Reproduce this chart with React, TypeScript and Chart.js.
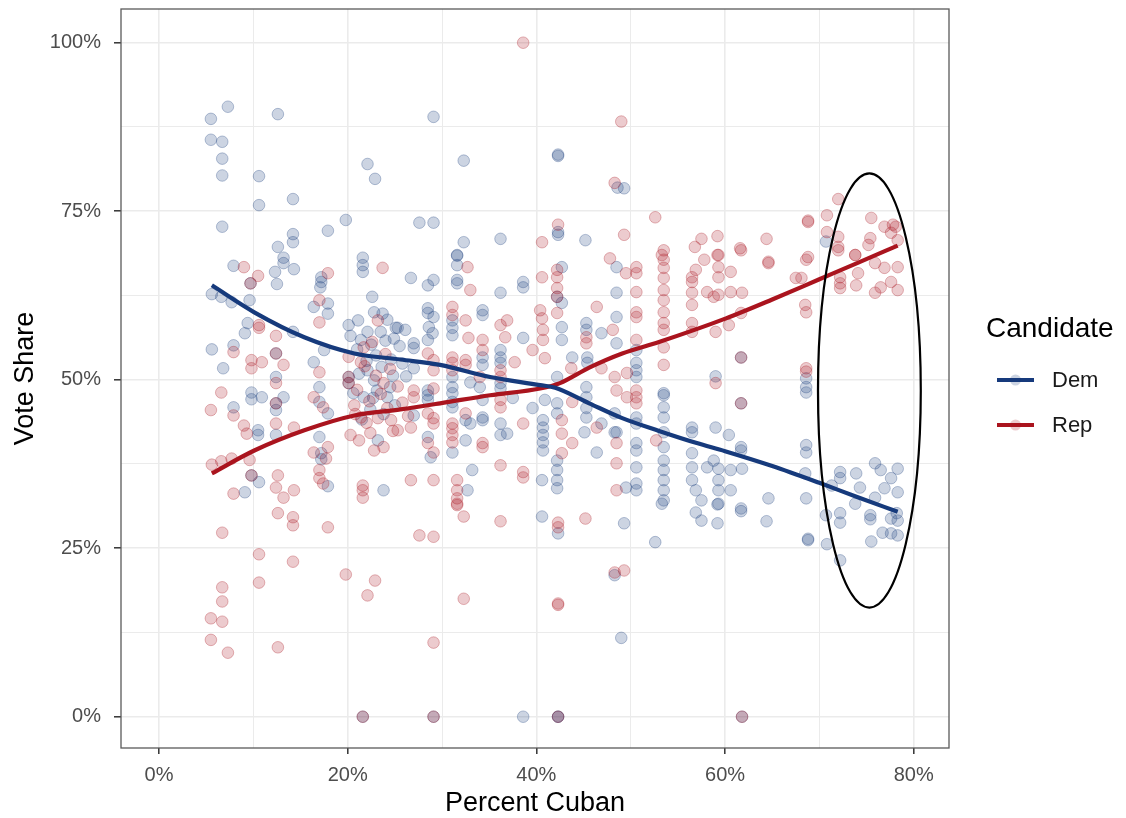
import React, { useEffect, useRef } from "react";
import { Chart, registerables } from "chart.js";

Chart.register(...registerables);

// ---------- data ----------
const xTickValues = [0, 10, 20, 30, 40, 50, 60, 70, 80];
const yTickValues = [0, 12.5, 25, 37.5, 50, 62.5, 75, 87.5, 100];
const seriesNames = ["Dem", "Rep"];
const legendTitle = "Candidate";
const xTitle = "Percent Cuban";
const yTitle = "Vote Share";

// Dem vote share per precinct/race: [percent Cuban, vote share]
const demPoints: [number, number][] = [
  [7.3, 90.5], [5.5, 88.7], [5.5, 85.6], [6.7, 85.3], [6.7, 82.8], [6.7, 80.3], [12.6, 89.4], [10.6, 80.2],
  [10.6, 75.9], [14.2, 76.8], [22.1, 82.0], [22.9, 79.8], [6.7, 72.7], [14.2, 71.6], [14.2, 70.4], [12.6, 69.7],
  [17.9, 72.1], [19.8, 73.7], [13.2, 68.1], [21.6, 68.1],
  [29.1, 89.0], [32.3, 82.5], [42.3, 83.4], [42.3, 83.2], [48.6, 78.5], [49.3, 78.4], [27.6, 73.3], [29.1, 73.3],
  [32.3, 70.4], [36.2, 70.9], [42.3, 71.9], [42.3, 71.5], [45.2, 70.7], [31.6, 68.4], [70.7, 70.5],
  [7.9, 66.9], [12.3, 66.0], [13.2, 67.3], [14.3, 66.4], [12.5, 64.2], [9.7, 64.3], [5.6, 62.7], [6.6, 62.3],
  [7.7, 61.5], [9.6, 61.8], [9.4, 58.4], [9.1, 56.9], [12.4, 53.9], [14.2, 57.1], [5.6, 54.5], [7.9, 55.1],
  [6.8, 51.7], [12.4, 50.4], [9.8, 48.1], [10.9, 47.4], [9.8, 47.1], [7.9, 45.9], [12.4, 46.5], [13.2, 47.4],
  [12.4, 45.5], [10.5, 42.5], [10.5, 41.8], [12.4, 41.8], [9.8, 35.8], [10.6, 34.8], [9.1, 33.3],
  [17.2, 65.2], [17.2, 64.5], [17.1, 63.7], [16.4, 60.8], [17.9, 61.3], [17.9, 59.8], [17.5, 54.4], [16.4, 52.6],
  [17.0, 48.9], [17.0, 46.7], [17.9, 45.0], [17.0, 41.5], [17.2, 39.1], [17.2, 38.2], [17.9, 34.2],
  [21.6, 67.0], [21.6, 66.0], [22.8, 60.0], [23.7, 59.8], [20.1, 58.1], [21.1, 58.8], [22.1, 57.1], [23.5, 57.1],
  [25.1, 57.7], [21.4, 55.9], [20.1, 50.4], [20.1, 49.5], [22.1, 51.4], [22.8, 49.9], [21.7, 47.4], [22.7, 47.3],
  [24.2, 47.4], [23.2, 41.0], [23.8, 33.6],
  [20.3, 56.5], [21.0, 54.5], [22.5, 55.2], [23.0, 53.6], [24.0, 55.8], [24.6, 53.0], [22.0, 52.8], [23.6, 51.9],
  [24.8, 50.6], [21.2, 50.9], [23.1, 48.4], [24.5, 48.9], [20.6, 48.0], [25.0, 46.2], [22.4, 45.6], [23.8, 44.9],
  [21.5, 44.1], [24.9, 56.1], [25.5, 55.0], [25.8, 52.4], [26.2, 50.5], [22.6, 62.3], [24.2, 58.9],
  [31.6, 68.5], [31.6, 67.0], [31.6, 64.8], [31.6, 64.3], [26.7, 65.1], [29.1, 64.8], [28.5, 64.0], [36.2, 62.9],
  [38.6, 64.5], [38.6, 63.7], [42.7, 66.7], [42.2, 62.3], [42.7, 61.4], [48.5, 66.7], [48.5, 62.9], [48.5, 59.3],
  [31.1, 58.8], [31.1, 57.7], [31.1, 56.6], [34.3, 60.3], [34.3, 59.6], [38.6, 56.2], [42.7, 57.8], [42.7, 55.9],
  [45.3, 58.4], [45.3, 57.4], [46.9, 56.9], [48.5, 55.4], [50.6, 54.4], [43.8, 53.3], [45.4, 53.3], [45.4, 52.5],
  [50.6, 52.5], [50.6, 51.4], [50.6, 50.4], [42.2, 50.4], [36.2, 54.4], [36.2, 53.3], [36.2, 52.5], [36.2, 49.5],
  [36.2, 48.7], [34.3, 53.3], [34.3, 52.2], [34.0, 48.9], [33.0, 49.6], [31.1, 50.4], [31.1, 48.9], [31.1, 48.0],
  [31.1, 46.7], [31.1, 45.9], [28.5, 60.6], [28.5, 59.9], [29.1, 59.3], [28.6, 57.8], [29.0, 56.9], [28.5, 55.9],
  [27.0, 55.4], [27.0, 54.7], [27.0, 51.7], [28.5, 48.4], [28.5, 47.7], [28.5, 47.0], [27.0, 44.7], [28.5, 41.5],
  [28.8, 38.5], [31.1, 39.2], [32.5, 44.0], [32.5, 41.0], [33.0, 43.5], [34.3, 47.0], [34.3, 44.4], [34.3, 44.0],
  [36.2, 43.5], [36.9, 42.0], [36.2, 41.8], [37.5, 47.3], [39.6, 45.8], [40.9, 47.0], [40.7, 44.0], [40.7, 42.9],
  [40.7, 41.8], [40.7, 40.7], [40.7, 39.5], [42.2, 46.5], [42.2, 45.0], [45.3, 48.9], [45.3, 47.4], [45.3, 45.8],
  [45.3, 44.4], [46.9, 43.5], [45.1, 42.2], [48.3, 45.0], [48.3, 42.2], [50.6, 44.4], [50.6, 43.5], [50.6, 40.6],
  [50.6, 39.5], [50.6, 37.0], [50.6, 34.6], [50.6, 33.6], [53.5, 48.0], [53.5, 45.9], [32.7, 33.6], [33.2, 36.6],
  [40.6, 35.1], [42.2, 38.0], [42.2, 36.6], [42.2, 35.1], [42.2, 33.9], [46.4, 39.2], [49.5, 34.0], [48.5, 42.2],
  [25.3, 57.7], [26.1, 57.4],
  [53.5, 47.7], [53.5, 44.4], [53.5, 42.2], [53.5, 40.0], [53.5, 38.0], [53.5, 36.6], [53.5, 35.1], [53.5, 33.6],
  [53.5, 32.1], [68.6, 50.2], [68.6, 48.9], [68.6, 48.1], [59.0, 50.5], [61.7, 46.5], [61.7, 53.3], [56.5, 42.9],
  [56.5, 42.2], [59.0, 42.9], [60.4, 41.8], [61.7, 40.0], [61.7, 39.5], [56.5, 39.1], [56.5, 37.0], [56.5, 35.1],
  [58.1, 37.0], [58.8, 38.0], [59.3, 36.8], [59.3, 35.1], [59.3, 33.6], [56.9, 33.6], [57.5, 32.1], [60.6, 36.6],
  [60.6, 33.6], [61.8, 36.8], [64.6, 32.4], [61.7, 30.9], [59.3, 31.6], [68.6, 40.3], [68.6, 39.2], [68.5, 36.1],
  [68.6, 32.4], [72.2, 36.3], [72.2, 35.4], [73.9, 36.1], [75.9, 37.6], [76.5, 36.6], [78.3, 36.8], [77.6, 35.4],
  [74.3, 34.0], [76.9, 33.9], [78.3, 33.3], [75.9, 32.5], [71.3, 34.3],
  [56.9, 30.3], [57.5, 29.1], [59.2, 31.5], [59.2, 28.7], [61.7, 30.5], [64.4, 29.0], [68.8, 26.4], [68.8, 26.2],
  [70.8, 25.6], [72.2, 23.2], [72.2, 30.2], [70.7, 29.9], [72.2, 28.8], [75.4, 29.9], [75.4, 29.3], [75.5, 26.0],
  [76.7, 27.3], [77.6, 27.2], [78.3, 26.9], [77.6, 29.4], [78.3, 29.1], [78.2, 30.2], [73.8, 31.6],
  [40.6, 29.7], [42.3, 27.2], [49.3, 28.7], [52.6, 25.9], [53.3, 31.6], [48.3, 21.0], [49.0, 11.7],
  [38.6, 0], [42.3, 0], [42.3, 0], [29.1, 0], [21.6, 0], [61.8, 0],
];

// Rep vote share per precinct/race: [percent Cuban, vote share]
const repPoints: [number, number][] = [
  [38.6, 100], [49.0, 88.3], [48.3, 79.2], [52.6, 74.1], [40.6, 70.4], [42.3, 73.0], [49.3, 71.5], [53.3, 68.5],
  [72.0, 76.8], [68.8, 73.6], [68.8, 73.4], [70.8, 74.4], [75.5, 74.0], [59.2, 71.3], [57.5, 70.9], [56.8, 69.7],
  [64.4, 70.9], [61.6, 69.5], [59.2, 68.5], [70.8, 71.9], [72.0, 71.2], [76.9, 72.7], [77.8, 73.0], [78.1, 72.7],
  [75.4, 71.0], [75.2, 70.0], [77.6, 71.8], [78.3, 70.7], [72.0, 69.7], [73.8, 68.5], [68.8, 68.2], [47.8, 68.0],
  [9.0, 66.7], [10.5, 65.4], [9.7, 64.3], [10.6, 58.1], [10.6, 57.7], [12.4, 56.5], [12.4, 53.9], [7.9, 54.1],
  [9.8, 52.9], [10.9, 52.6], [9.8, 51.7], [13.2, 52.2], [12.4, 49.5], [6.6, 48.1], [5.5, 45.5], [7.9, 44.7],
  [12.4, 46.5], [9.0, 43.2], [9.3, 42.0], [12.4, 43.5], [14.3, 42.9], [5.6, 37.4], [6.6, 37.9], [7.7, 38.3],
  [9.6, 38.1], [9.8, 35.8], [12.6, 35.8], [12.4, 34.0], [7.9, 33.1], [13.2, 32.5], [14.3, 33.6],
  [17.9, 65.8], [17.0, 61.8], [17.0, 58.5], [17.0, 51.1], [16.4, 47.4], [17.4, 45.9], [16.4, 39.2], [17.9, 40.0],
  [17.7, 38.3], [17.0, 36.6], [17.0, 35.4], [17.4, 34.6],
  [23.7, 66.6], [23.2, 58.8], [21.7, 54.8], [20.1, 53.4], [20.1, 50.4], [20.1, 49.5], [21.4, 52.6], [23.8, 49.5],
  [20.7, 46.2], [21.4, 44.4], [23.2, 44.3], [24.6, 44.0], [20.3, 41.8], [21.2, 41.0], [22.8, 39.5], [23.8, 40.0],
  [21.6, 34.3], [21.6, 33.6], [21.6, 32.5],
  [21.0, 48.5], [22.3, 46.8], [23.5, 47.9], [24.2, 45.8], [20.8, 44.9], [22.0, 43.6], [24.8, 42.4], [23.0, 50.6],
  [21.8, 52.0], [24.5, 51.6], [22.6, 55.6], [24.0, 53.8], [25.3, 49.0], [25.8, 46.6], [26.4, 44.6], [22.4, 42.1],
  [6.7, 27.3], [12.6, 30.2], [14.2, 29.6], [14.2, 28.4], [17.9, 28.1], [10.6, 24.1], [14.2, 23.0], [10.6, 19.9],
  [19.8, 21.1], [22.9, 20.2], [22.1, 18.0], [6.7, 19.2], [6.7, 17.1], [5.5, 14.6], [6.7, 14.1], [5.5, 11.4],
  [7.3, 9.5], [12.6, 10.3], [21.6, 0],
  [27.6, 26.9], [29.1, 26.7], [31.6, 31.6], [31.6, 31.4], [32.3, 29.7], [36.2, 29.0], [42.3, 28.8], [42.3, 28.1],
  [45.2, 29.4], [48.3, 21.4], [49.3, 21.7], [32.3, 17.5], [42.3, 16.6], [42.3, 16.8], [29.1, 11.0], [29.1, 0],
  [42.3, 0], [61.8, 0],
  [32.7, 66.7], [33.0, 63.3], [40.6, 65.2], [42.2, 66.3], [42.2, 65.2], [42.2, 63.6], [42.2, 62.3], [42.2, 59.9],
  [50.6, 66.7], [50.6, 65.8], [50.6, 63.0], [49.5, 65.8], [46.4, 60.8], [50.6, 60.0], [50.6, 59.3], [31.1, 60.8],
  [31.1, 59.6], [32.5, 58.8], [32.8, 56.2], [36.2, 58.1], [36.9, 58.8], [36.7, 56.3], [40.4, 60.3], [40.6, 59.1],
  [40.7, 57.4], [40.7, 55.9], [45.3, 56.3], [45.3, 55.4], [48.1, 57.4], [50.6, 55.9], [39.6, 54.4], [40.9, 53.2],
  [43.7, 51.7], [46.9, 51.7], [48.3, 50.4], [49.6, 51.0], [37.7, 52.6], [36.2, 51.4], [36.2, 50.4], [34.3, 55.9],
  [34.3, 54.4], [34.0, 50.4], [32.5, 52.9], [32.5, 52.2], [31.1, 53.3], [31.1, 52.5], [31.1, 51.4], [28.5, 53.9],
  [29.1, 52.9], [29.1, 51.4], [27.0, 48.4], [27.0, 47.4], [29.1, 48.7], [28.5, 45.0], [29.1, 44.3], [29.1, 43.5],
  [25.3, 42.5], [26.7, 42.9], [28.5, 40.6], [29.1, 39.2], [31.1, 43.5], [31.1, 42.8], [31.1, 41.8], [31.1, 40.7],
  [32.5, 45.0], [34.3, 40.6], [34.3, 40.0], [36.2, 47.0], [36.2, 45.9], [38.6, 43.5], [42.7, 44.0], [42.7, 42.0],
  [43.8, 46.7], [46.4, 42.9], [48.5, 48.4], [49.6, 47.4], [50.6, 48.4], [50.6, 47.4], [50.6, 46.5], [52.7, 41.0],
  [26.7, 35.1], [29.1, 35.1], [31.6, 35.1], [31.6, 33.6], [31.6, 32.4], [36.2, 37.3], [38.6, 36.3], [38.6, 35.5],
  [42.7, 39.1], [43.8, 40.6], [48.5, 37.6], [48.5, 33.6], [48.5, 40.6],
  [53.5, 69.2], [53.5, 67.8], [53.5, 66.6], [53.5, 65.1], [53.5, 63.3], [53.5, 61.8], [53.5, 60.0], [53.5, 58.4],
  [53.5, 57.4], [53.5, 54.8], [53.5, 52.2],
  [56.5, 65.2], [56.5, 64.5], [56.9, 66.3], [56.5, 62.9], [56.5, 61.1], [56.5, 58.4], [56.5, 57.1], [57.8, 67.8],
  [59.3, 68.5], [59.3, 66.7], [59.3, 65.2], [60.6, 66.0], [58.1, 63.0], [58.8, 62.3], [59.3, 62.6], [60.6, 63.0],
  [61.8, 62.9], [61.7, 69.2], [64.6, 67.5], [64.6, 67.3], [68.6, 67.8], [67.5, 65.1], [68.1, 65.1], [68.5, 61.1],
  [68.6, 60.0], [61.7, 59.9], [60.4, 58.1], [59.0, 57.1], [61.7, 53.3], [68.6, 51.7], [68.6, 51.2], [59.0, 49.5],
  [61.7, 46.5], [72.2, 65.2], [72.2, 64.3], [72.2, 63.6], [73.9, 64.0], [75.9, 62.9], [76.5, 63.7], [77.6, 64.5],
  [78.3, 63.3], [76.9, 66.6], [78.3, 66.7], [74.1, 65.8], [72.0, 69.2], [73.8, 68.5], [75.9, 67.3],
];

// loess fits
const demSmooth: [number, number][] = [
  [5.6, 64.0], [10.1, 60.0], [15.4, 56.3], [20.7, 53.9], [25.6, 53.0], [29.8, 52.2], [35.1, 50.4], [40.4, 49.2],
  [42.0, 48.8], [45.6, 46.5], [49.1, 44.3], [53.0, 42.4], [57.0, 40.6], [60.0, 39.4], [65.0, 37.2], [70.0, 34.7],
  [74.0, 32.6], [78.3, 30.4],
];
const repSmooth: [number, number][] = [
  [5.6, 36.1], [10.1, 39.5], [15.4, 42.5], [20.7, 44.7], [25.6, 45.6], [29.8, 46.5], [35.1, 47.7], [40.4, 48.7],
  [42.5, 49.5], [45.6, 51.8], [49.1, 53.9], [53.0, 55.6], [60.1, 59.1], [65.0, 61.9], [70.0, 64.9], [74.0, 67.3],
  [78.3, 69.9],
];

// hand-drawn highlight ellipse (data units)
const highlight = { cx: 75.3, cy: 48.4, rx: 5.45, ry: 32.2 };

// ---------- styles ----------
const DEM = "22,58,124";
const REP = "170,20,30";
const FONT = "'Liberation Sans', Arial, Helvetica, sans-serif";

const rgba = (c: string, a: number) => `rgba(${c},${a})`;

const toXY = (arr: [number, number][]) => arr.map(([x, y]) => ({ x, y }));

const decorPlugin = {
  id: "decor",
  afterDatasetsDraw(chart: any) {
    const { ctx, chartArea: a, scales } = chart;
    const x = scales.x;
    const y = scales.y;
    ctx.save();
    const cx = x.getPixelForValue(highlight.cx);
    const cy = y.getPixelForValue(highlight.cy);
    const rx = Math.abs(x.getPixelForValue(highlight.cx + highlight.rx) - cx);
    const ry = Math.abs(y.getPixelForValue(highlight.cy + highlight.ry) - cy);
    ctx.beginPath();
    ctx.ellipse(cx, cy, rx, ry, 0, 0, Math.PI * 2);
    ctx.strokeStyle = "#000";
    ctx.lineWidth = 2.2;
    ctx.stroke();
    ctx.strokeStyle = "#5a5a5a";
    ctx.lineWidth = 1.3;
    ctx.strokeRect(a.left, a.top, a.right - a.left, a.bottom - a.top);
    ctx.restore();
  },
  afterDraw(chart: any) {
    const { ctx } = chart;
    ctx.save();
    ctx.fillStyle = "#000";
    ctx.textBaseline = "middle";
    ctx.textAlign = "left";
    ctx.font = `28px ${FONT}`;
    ctx.fillText(legendTitle, 986, 329);
    const colors = [DEM, REP];
    const ys = [380, 425];
    seriesNames.forEach((name, i) => {
      const yy = ys[i];
      ctx.beginPath();
      ctx.moveTo(997, yy);
      ctx.lineTo(1034, yy);
      ctx.strokeStyle = rgba(colors[i], 1);
      ctx.lineWidth = 4;
      ctx.stroke();
      ctx.beginPath();
      ctx.arc(1015.5, yy, 5.5, 0, Math.PI * 2);
      ctx.fillStyle = rgba(colors[i], 0.22);
      ctx.fill();
      ctx.fillStyle = "#1a1a1a";
      ctx.font = `22px ${FONT}`;
      ctx.fillText(name, 1052, yy + 1);
    });
    ctx.restore();
  },
};

export default function App() {
  const canvasRef = useRef<HTMLCanvasElement | null>(null);

  useEffect(() => {
    const canvas = canvasRef.current;
    if (!canvas) return;
    Chart.defaults.font.family = FONT;

    const pointStyle = (c: string) => ({
      backgroundColor: rgba(c, 0.22),
      borderColor: rgba(c, 0.3),
      borderWidth: 1,
      pointRadius: 5.8,
      pointHoverRadius: 5.8,
      showLine: false,
    });

    const chart = new Chart(canvas, {
      type: "scatter",
      data: {
        datasets: [
          { label: "Dem fit", type: "line", data: toXY(demSmooth), borderColor: rgba(DEM, 1), borderWidth: 4.2, pointRadius: 0, tension: 0.4, cubicInterpolationMode: "monotone", fill: false, order: 0 } as any,
          { label: "Rep fit", type: "line", data: toXY(repSmooth), borderColor: rgba(REP, 1), borderWidth: 4.2, pointRadius: 0, tension: 0.4, cubicInterpolationMode: "monotone", fill: false, order: 0 } as any,
          { label: "Dem", data: toXY(demPoints), ...pointStyle(DEM), order: 2 } as any,
          { label: "Rep", data: toXY(repPoints), ...pointStyle(REP), order: 1 } as any,
        ],
      },
      options: {
        responsive: false,
        animation: false,
        devicePixelRatio: 1,
        layout: { padding: { left: 0, right: 177, top: 9, bottom: 0 } },
        plugins: { legend: { display: false }, tooltip: { enabled: false } },
        scales: {
          x: {
            type: "linear",
            min: -4.03,
            max: 83.74,
            afterBuildTicks: (axis: any) => {
              axis.ticks = xTickValues.map((v) => ({ value: v }));
            },
            afterFit: (axis: any) => {
              axis.height = 70;
              axis.paddingLeft = 0;
              axis.paddingRight = 0;
            },
            ticks: {
              autoSkip: false,
              maxRotation: 0,
              padding: 9,
              color: "#4d4d4d",
              font: { size: 20, family: FONT },
              callback: (v: any) => (Number(v) % 20 === 0 ? `${v}%` : ""),
            },
            grid: {
              color: "#ebebeb",
              lineWidth: (c: any) => (c.tick && c.tick.value % 20 === 0 ? 1.6 : 1),
              tickColor: (c: any) => (c.tick && c.tick.value % 20 === 0 ? "#333" : "rgba(0,0,0,0)"),
              tickLength: 6,
              tickWidth: 1.5,
            },
            border: { display: false },
            title: { display: true, text: xTitle, color: "#000", font: { size: 27, family: FONT, lineHeight: 1.05 }, padding: { top: 0, bottom: 0 } },
          },
          y: {
            type: "linear",
            min: -4.64,
            max: 105.0,
            afterBuildTicks: (axis: any) => {
              axis.ticks = yTickValues.map((v) => ({ value: v }));
            },
            afterFit: (axis: any) => {
              axis.width = 121;
              axis.paddingTop = 0;
              axis.paddingBottom = 0;
            },
            ticks: {
              autoSkip: false,
              padding: 13,
              color: "#4d4d4d",
              font: { size: 20, family: FONT },
              callback: (v: any) => (Number(v) % 25 === 0 ? `${v}%` : ""),
            },
            grid: {
              color: "#ebebeb",
              lineWidth: (c: any) => (c.tick && c.tick.value % 25 === 0 ? 1.6 : 1),
              tickColor: (c: any) => (c.tick && c.tick.value % 25 === 0 ? "#333" : "rgba(0,0,0,0)"),
              tickLength: 7,
              tickWidth: 1.5,
            },
            border: { display: false },
            title: { display: true, text: yTitle, color: "#000", font: { size: 27, family: FONT }, padding: { top: 9, bottom: 0 } },
          },
        },
      },
      plugins: [decorPlugin],
    } as any);

    return () => chart.destroy();
  }, []);

  return (
    <div style={{ position: "fixed", left: 0, top: 0, width: 1126, height: 818, background: "#fff" }}>
      <canvas ref={canvasRef} width={1126} height={818} style={{ display: "block" }} />
    </div>
  );
}
